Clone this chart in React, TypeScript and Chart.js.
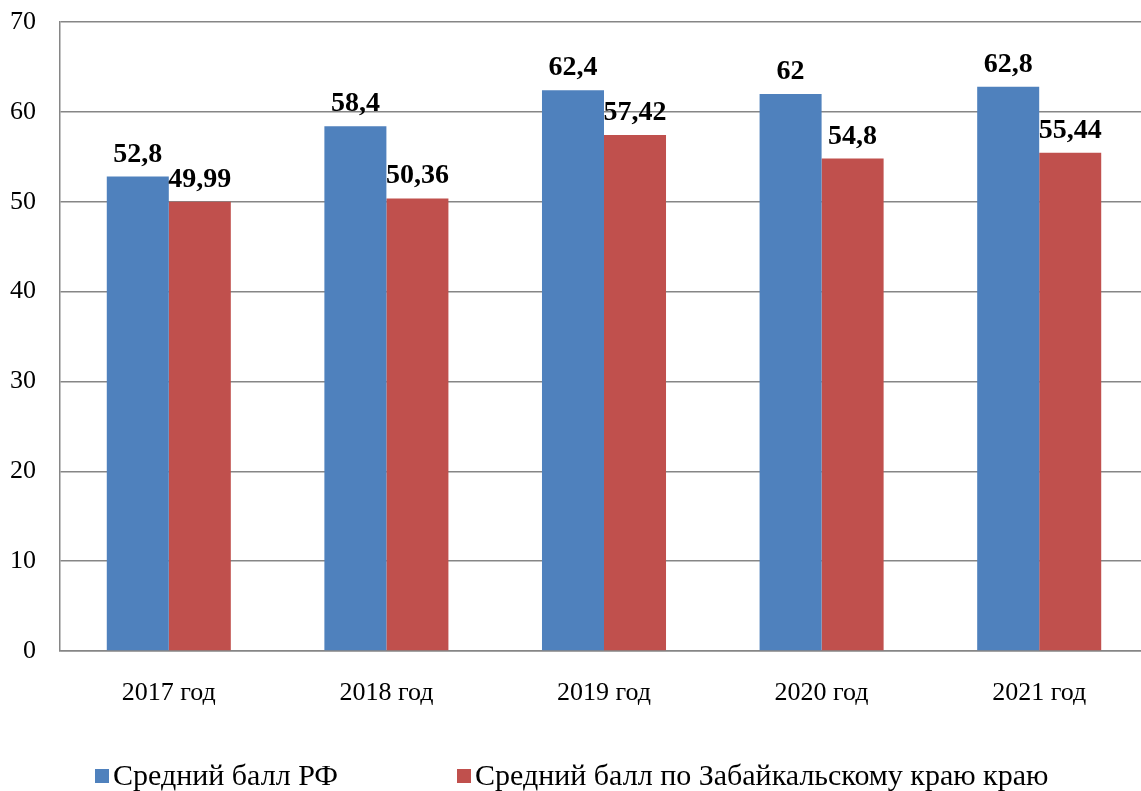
import React, { useEffect, useRef } from "react";
import { Chart, registerables } from "chart.js";

Chart.register(...registerables);

const categories = ["2017 год", "2018 год", "2019 год", "2020 год", "2021 год"];
const seriesRF = [52.8, 58.4, 62.4, 62, 62.8];
const seriesZab = [49.99, 50.36, 57.42, 54.8, 55.44];
const seriesNames = ["Средний балл РФ", "Средний балл по Забайкальскому краю краю"];
const yTicks = [0, 10, 20, 30, 40, 50, 60, 70];

const FONT = '"Liberation Serif", "Times New Roman", serif';
const BLUE = "#4F81BD";
const RED = "#C0504D";
const GRID = "#868686";

const fmt = (v: number) => String(v).replace(".", ",");

const labelsPlugin = {
  id: "valueLabels",
  afterDatasetsDraw(chart: any) {
    const ctx = chart.ctx;
    ctx.save();
    ctx.font = `bold 28px ${FONT}`;
    ctx.fillStyle = "#000";
    ctx.textAlign = "center";
    ctx.textBaseline = "alphabetic";
    chart.data.datasets.forEach((ds: any, i: number) => {
      const meta = chart.getDatasetMeta(i);
      meta.data.forEach((bar: any, j: number) => {
        ctx.fillText(fmt(ds.data[j]), bar.x, bar.y - 15);
      });
    });
    ctx.restore();
  },
};

const legendPlugin = {
  id: "customLegend",
  afterDraw(chart: any) {
    const ctx = chart.ctx;
    ctx.save();
    const items = [
      { x: 95, color: BLUE, text: seriesNames[0] },
      { x: 457, color: RED, text: seriesNames[1] },
    ];
    const cy = 776;
    ctx.font = `30px ${FONT}`;
    ctx.textBaseline = "middle";
    ctx.textAlign = "left";
    items.forEach((it) => {
      ctx.fillStyle = it.color;
      ctx.fillRect(it.x, cy - 7, 14, 14);
      ctx.fillStyle = "#000";
      ctx.fillText(it.text, it.x + 18, cy + 1);
    });
    ctx.restore();
  },
};

export default function App() {
  const ref = useRef<HTMLCanvasElement | null>(null);
  useEffect(() => {
    if (!ref.current) return;
    const chart = new Chart(ref.current, {
      type: "bar",
      data: {
        labels: categories,
        datasets: [
          { label: seriesNames[0], data: seriesRF, backgroundColor: BLUE, borderWidth: 0 },
          { label: seriesNames[1], data: seriesZab, backgroundColor: RED, borderWidth: 0 },
        ],
      },
      options: {
        animation: false,
        responsive: true,
        maintainAspectRatio: false,
        layout: { padding: { left: 0, top: 22, right: 0, bottom: 0 } },
        plugins: {
          legend: { display: false },
          title: { display: false },
          subtitle: { display: false },
          tooltip: { enabled: false },
        },
        datasets: { bar: { categoryPercentage: 0.57, barPercentage: 1 } },
        scales: {
          x: {
            grid: { display: false, drawTicks: false },
            border: { display: true, color: GRID, width: 1.5 },
            ticks: { color: "#000", font: { family: FONT, size: 26 }, padding: 27, maxRotation: 0 },
            afterFit: (s: any) => {
              s.height = 140;
              s.paddingLeft = 0;
              s.paddingRight = 0;
            },
          },
          y: {
            min: 0,
            max: 70,
            afterBuildTicks: (s: any) => { s.ticks = yTicks.map((v) => ({ value: v })); },
            grid: { color: GRID, lineWidth: 1.5, drawTicks: false },
            border: { display: true, color: GRID, width: 1.5 },
            ticks: { color: "#000", font: { family: FONT, size: 26 }, padding: 24 },
            afterFit: (s: any) => {
              s.width = 60;
              s.paddingTop = 0;
              s.paddingBottom = 0;
            },
          },
        },
      },
      plugins: [labelsPlugin, legendPlugin],
    });
    return () => chart.destroy();
  }, []);
  return (
    <div style={{ position: "absolute", left: 0, top: 0, width: 1141, height: 791, background: "#fff", overflow: "hidden" }}>
      <div style={{ position: "relative", width: 1148, height: 791 }}>
        <canvas ref={ref} />
      </div>
    </div>
  );
}
